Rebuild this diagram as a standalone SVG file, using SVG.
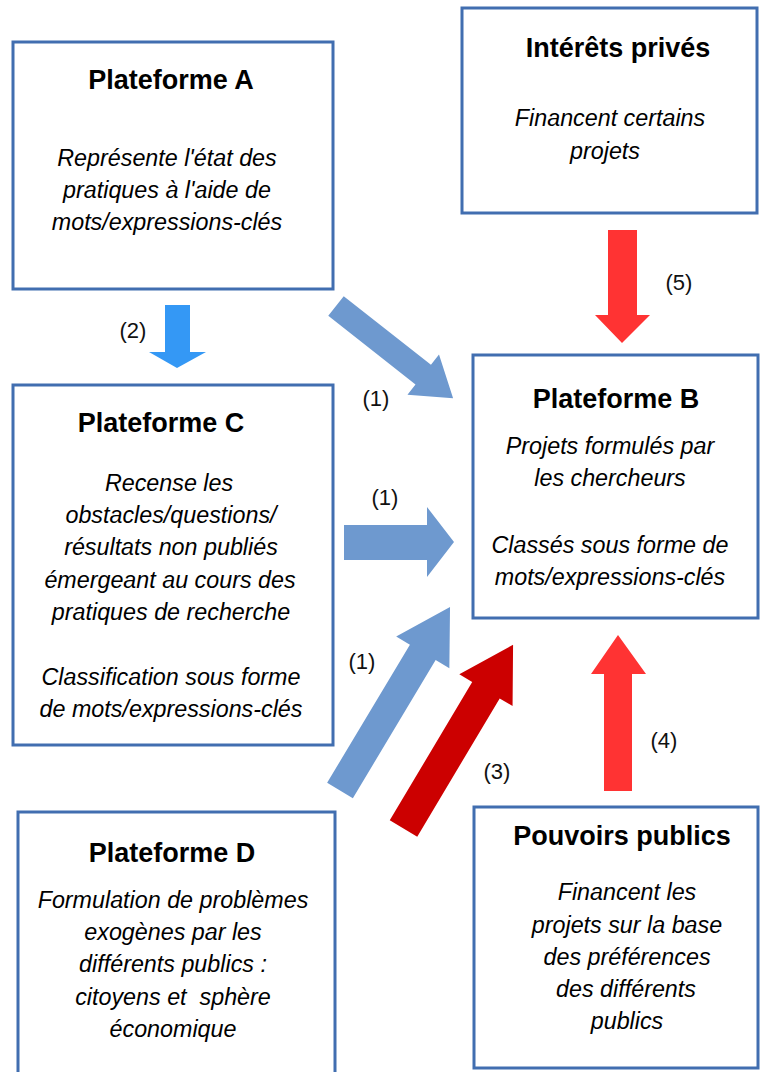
<svg xmlns="http://www.w3.org/2000/svg" width="761" height="1072" viewBox="0 0 761 1072">
<style>
.box{fill:#ffffff;stroke:#416eb0;stroke-width:3}
.title{font-family:"Liberation Sans",Arial,sans-serif;font-weight:bold;font-size:27px;fill:#000;text-anchor:middle}
.body{font-family:"Liberation Sans",Arial,sans-serif;font-style:italic;font-size:23.3px;fill:#000;text-anchor:middle;white-space:pre}
.num{font-family:"Liberation Sans",Arial,sans-serif;font-size:22px;fill:#111;text-anchor:middle}
.blue{fill:#6e99cf}
.blue2{fill:#3498f5}
.red{fill:#ff3333}
.dred{fill:#cc0000}
</style>
<rect width="761" height="1072" fill="#ffffff"/>
<g id="connectors">
<polygon class="blue" transform="translate(336,306) rotate(38.2)" points="0,-12.5 111,-12.5 111,-25.5 149,0 111,25.5 111,12.5 0,12.5"/>
<polygon class="blue" points="344,525 427,525 427,507 454,542 427,577 427,560 344,560"/>
<polygon class="blue" transform="translate(340,790.5) rotate(-59.06)" points="0,-15 161,-15 161,-31 214,0 161,31 161,15 0,15"/>
<polygon class="dred" transform="translate(403.5,828.5) rotate(-59.2)" points="0,-16 161,-16 161,-31 214,0 161,31 161,16 0,16"/>
<polygon class="blue2" points="165,305 190,305 190,352 206,352 177,368 149,352 165,352"/>
<polygon class="red" points="608,230 637,230 637,315 650,315 622,343 595,315 608,315"/>
<polygon class="red" points="604,791 632,791 632,674 646,674 618,635 591,674 604,674"/>
<text class="num" x="133" y="338">(2)</text>
<text class="num" x="376" y="406">(1)</text>
<text class="num" x="385" y="505">(1)</text>
<text class="num" x="362" y="669">(1)</text>
<text class="num" x="497" y="779">(3)</text>
<text class="num" x="664" y="748">(4)</text>
<text class="num" x="679" y="290">(5)</text>
</g>
<g id="plateforme-a">
<rect class="box" x="13" y="42" width="320" height="247"/>
<text class="title" x="171" y="89">Plateforme A</text>
<text class="body" x="167" y="166">Représente l'état des</text>
<text class="body" x="167" y="198">pratiques à l'aide de</text>
<text class="body" x="167" y="230">mots/expressions-clés</text>
</g>
<g id="interets-prives">
<rect class="box" x="462" y="8" width="295" height="205"/>
<text class="title" x="618" y="57">Intérêts privés</text>
<text class="body" x="610" y="126">Financent certains</text>
<text class="body" x="605" y="159">projets</text>
</g>
<g id="plateforme-b">
<rect class="box" x="473" y="355" width="285" height="263"/>
<text class="title" x="616" y="408">Plateforme B</text>
<text class="body" x="610" y="454">Projets formulés par</text>
<text class="body" x="610" y="486">les chercheurs</text>
<text class="body" x="610" y="553">Classés sous forme de</text>
<text class="body" x="610" y="585">mots/expressions-clés</text>
</g>
<g id="plateforme-c">
<rect class="box" x="13" y="385" width="320" height="360"/>
<text class="title" x="161" y="432">Plateforme C</text>
<text class="body" x="169" y="491">Recense les</text>
<text class="body" x="171" y="523">obstacles/questions/</text>
<text class="body" x="171" y="555">résultats non publiés</text>
<text class="body" x="170" y="588">émergeant au cours des</text>
<text class="body" x="171" y="620">pratiques de recherche</text>
<text class="body" x="171" y="685">Classification sous forme</text>
<text class="body" x="171" y="717">de mots/expressions-clés</text>
</g>
<g id="plateforme-d">
<rect class="box" x="18" y="812" width="317" height="280"/>
<text class="title" x="172" y="862">Plateforme D</text>
<text class="body" x="173" y="908">Formulation de problèmes</text>
<text class="body" x="173" y="940">exogènes par les</text>
<text class="body" x="173" y="972">différents publics :</text>
<text class="body" x="173" y="1005" xml:space="preserve">citoyens et  sphère</text>
<text class="body" x="173" y="1037">économique</text>
</g>
<g id="pouvoirs-publics">
<rect class="box" x="474" y="807" width="284" height="261"/>
<text class="title" x="622" y="845">Pouvoirs publics</text>
<text class="body" x="627" y="900">Financent les</text>
<text class="body" x="627" y="933">projets sur la base</text>
<text class="body" x="627" y="965">des préférences</text>
<text class="body" x="626" y="997">des différents</text>
<text class="body" x="627" y="1029">publics</text>
</g>
</svg>
